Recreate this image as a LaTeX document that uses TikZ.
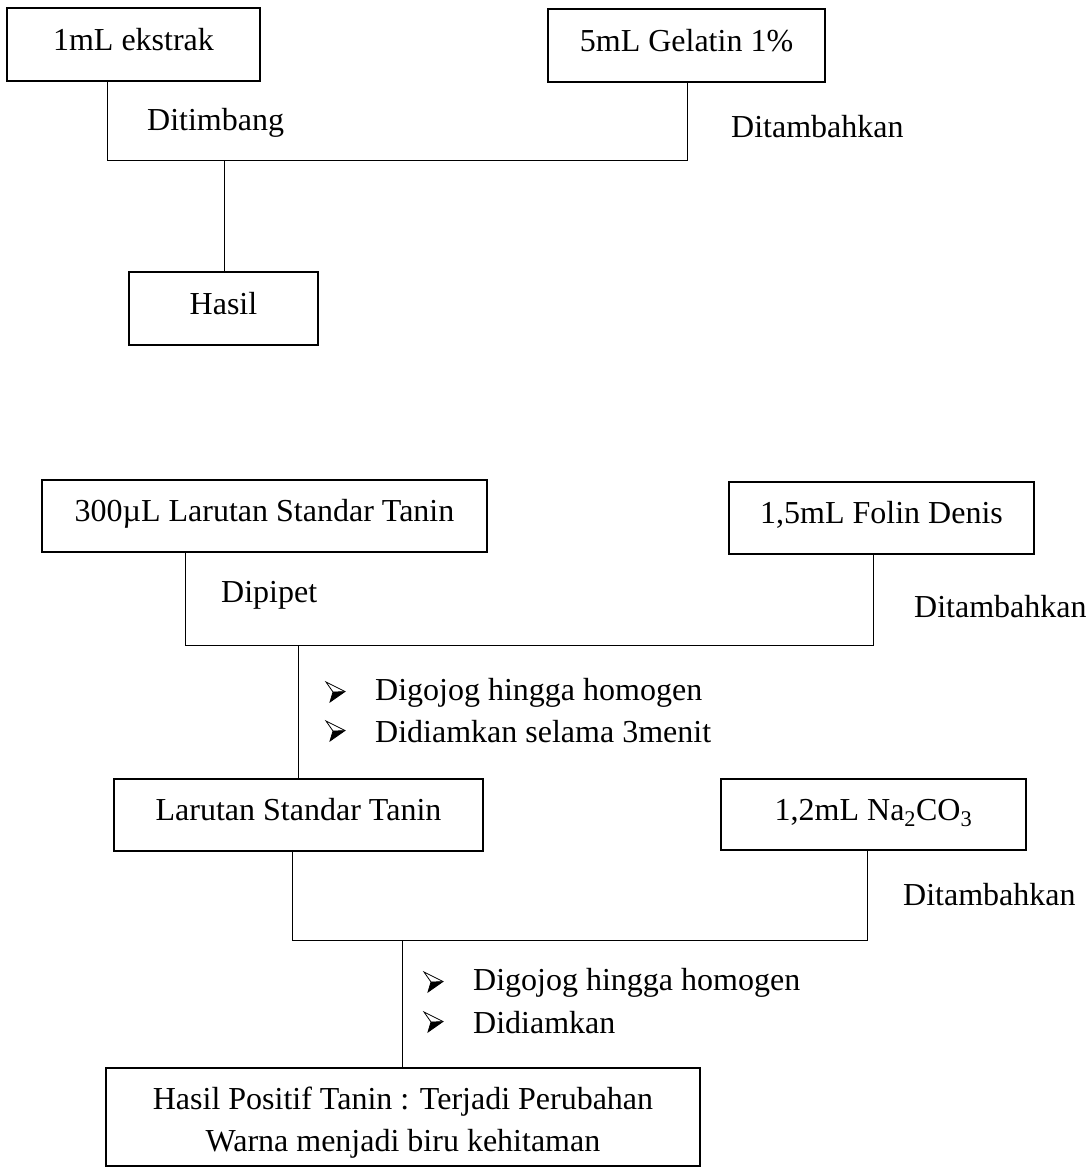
\documentclass[tikz,border=0pt]{standalone}
\usepackage{fontspec}
\setmainfont{Liberation Serif}
\begin{document}
\begin{tikzpicture}[x=1pt,y=-1pt,
  box/.style={draw, line width=1.6pt, inner sep=0pt, align=center,
              text height=21pt, text depth=10pt,
              font=\fontsize{32}{42}\selectfont},
  lbl/.style={inner sep=0pt, anchor=west, font=\fontsize{32}{42}\selectfont},
  conn/.style={line width=0.9pt},
  bularrow/.pic={
    \fill[black] (7,10) -- (19,9.5) -- (4,20) -- cycle;
    \draw[line width=0.8pt, line join=miter] (0,0) -- (19,9.5) -- (4,20) -- (7,10) -- cycle;
    \draw[line width=0.6pt] (7,10) -- (19,9.5);
  }]
\useasboundingbox (0,0) rectangle (1086,1168);

% ---- section 1 ----
\node[box, minimum width=253, minimum height=73] (b1) at (133.5,44.5) {1mL ekstrak};
\node[box, minimum width=277, minimum height=73] (b2) at (686.5,45.5) {5mL Gelatin 1\%};
\node[box, minimum width=189, minimum height=73] (hasil) at (223.5,308.5) {Hasil};
\coordinate (j1l) at (107,160);
\coordinate (j1r) at (687,160);
\coordinate (j1m) at (224,160);
\draw[conn] (b1.south -| j1l) -- (j1l) -- (j1r) -- (b2.south -| j1r);
\draw[conn] (j1m) -- (hasil.north -| j1m);
\node[lbl] (t1) at (147,123) {Ditimbang};
\node[lbl] (t2) at (731,127) {Ditambahkan};

% ---- section 2 ----
\node[box, minimum width=445, minimum height=72] (b3) at (264.5,516) {300µL Larutan Standar Tanin};
\node[box, minimum width=305, minimum height=72] (b4) at (881.5,518) {1,5mL Folin Denis};
\node[box, minimum width=369, minimum height=72] (b5) at (298.5,815) {Larutan Standar Tanin};
\coordinate (j2l) at (185,645);
\coordinate (j2r) at (873,645);
\coordinate (j2m) at (298,645);
\draw[conn] (b3.south -| j2l) -- (j2l) -- (j2r) -- (b4.south -| j2r);
\draw[conn] (j2m) -- (b5.north -| j2m);
\node[lbl] (t3) at (221,595) {Dipipet};
\node[lbl] (t4) at (914,607) {Ditambahkan};
\node[lbl] (s2a) at (375,693) {Digojog hingga homogen};
\node[lbl] (s2b) at (375,732) {Didiamkan selama 3menit};
\pic at ([shift={(-49,-11)}]s2a.west) {bularrow};
\pic at ([shift={(-49,-11)}]s2b.west) {bularrow};

% ---- section 3 ----
\node[box, minimum width=305, minimum height=71] (b6) at (873.5,814.5) {1,2mL Na\textsubscript{2}CO\textsubscript{3}};
\node[draw, line width=1.6pt, inner sep=0pt, align=center, font=\fontsize{32}{42}\selectfont,
      minimum width=594, minimum height=98] (b7) at (403,1117)
  {\rule{0pt}{34pt}Hasil Positif Tanin : Terjadi Perubahan\\Warna menjadi biru kehitaman};
\coordinate (j3l) at (292,940);
\coordinate (j3r) at (867,940);
\coordinate (j3m) at (402,940);
\draw[conn] (b5.south -| j3l) -- (j3l) -- (j3r) -- (b6.south -| j3r);
\draw[conn] (j3m) -- (b7.north -| j3m);
\node[lbl] (t5) at (903,895) {Ditambahkan};
\node[lbl] (s3a) at (473,983) {Digojog hingga homogen};
\node[lbl] (s3b) at (473,1023) {Didiamkan};
\pic at ([shift={(-49,-11)}]s3a.west) {bularrow};
\pic at ([shift={(-49,-11)}]s3b.west) {bularrow};
\end{tikzpicture}
\end{document}
